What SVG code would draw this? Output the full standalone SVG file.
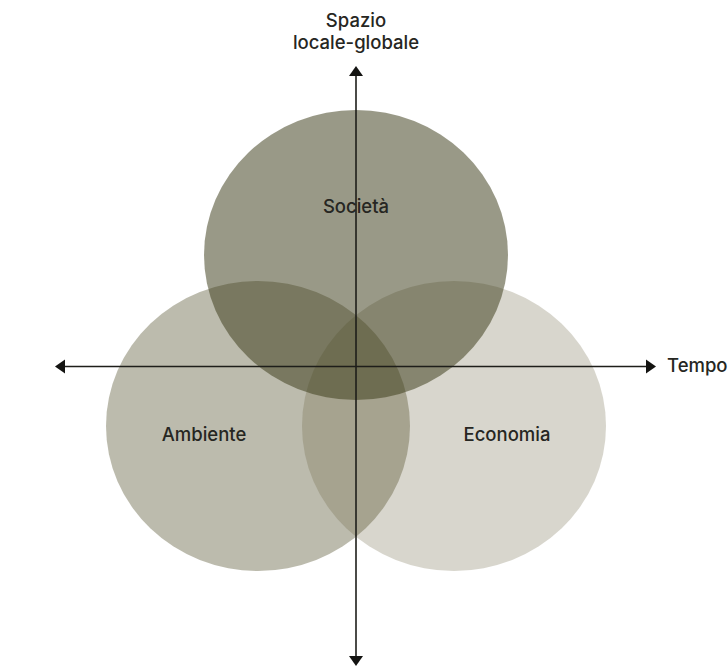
<svg xmlns="http://www.w3.org/2000/svg" width="728" height="667" viewBox="0 0 728 667">
  <style>
    .set { stroke: none; }
    .lbl { font-family: Inter, "Liberation Sans", sans-serif; font-size: 18.5px; font-weight: 500; fill: #262622; text-anchor: middle; }
    .axis { stroke: #1e1e1a; stroke-width: 1.6; fill: none; }
    .head { fill: #141412; }
  </style>
  <rect width="728" height="667" fill="#ffffff"/>
  <g id="ambiente">
    <ellipse class="set" cx="258" cy="426" rx="152" ry="145" fill="#46431c" fill-opacity="0.36"/>
    <text class="lbl" x="204" y="441">Ambiente</text>
  </g>
  <g id="economia">
    <ellipse class="set" cx="454" cy="426" rx="152" ry="145" fill="#635b38" fill-opacity="0.25"/>
    <text class="lbl" x="507" y="441">Economia</text>
  </g>
  <g id="societa">
    <ellipse class="set" cx="356" cy="255" rx="152" ry="145" fill="#3b3b18" fill-opacity="0.52"/>
    <text class="lbl" x="356" y="213">Società</text>
  </g>
  <g id="connectors">
    <line class="axis" x1="356" y1="74" x2="356" y2="658"/>
    <line class="axis" x1="63" y1="366.5" x2="648" y2="366.5"/>
    <polygon class="head" points="356,66 349,76 363,76"/>
    <polygon class="head" points="356,666 349,656 363,656"/>
    <polygon class="head" points="55,366.5 65,359.5 65,373.5"/>
    <polygon class="head" points="656,366.5 646,359.5 646,373.5"/>
  </g>
  <g id="axis-labels">
    <text class="lbl" x="356" y="27">Spazio</text>
    <text class="lbl" x="356" y="49">locale-globale</text>
    <text class="lbl" x="667" y="372" style="text-anchor:start">Tempo</text>
  </g>
</svg>
